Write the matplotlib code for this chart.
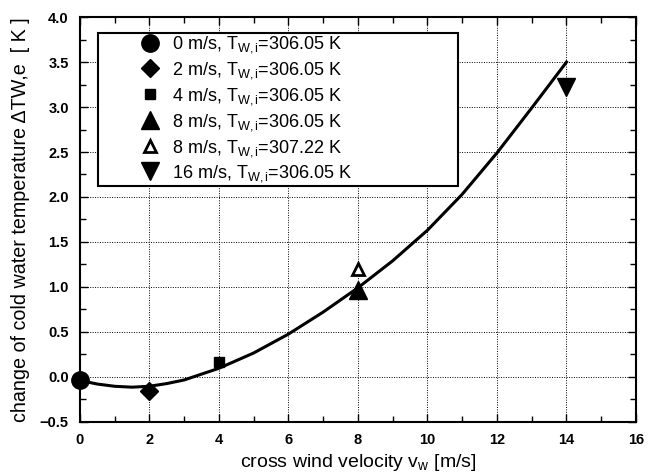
import numpy as np
import matplotlib
matplotlib.use('Agg')
import matplotlib.pyplot as plt
from matplotlib.ticker import MultipleLocator
from matplotlib.patches import Rectangle

plt.rcParams['font.family'] = ['Liberation Sans', 'DejaVu Sans']
plt.rcParams['mathtext.fontset'] = 'custom'
plt.rcParams['mathtext.rm'] = 'Liberation Sans'
plt.rcParams['mathtext.it'] = 'Liberation Sans'

# measured points
wind = [0, 2, 4, 8, 8, 14]
dT = [-0.04, -0.16, 0.16, 0.97, 1.20, 3.22]
labels = [r'0 m/s, T$_{\rm W,i}$=306.05 K',
          r'2 m/s, T$_{\rm W,i}$=306.05 K',
          r'4 m/s, T$_{\rm W,i}$=306.05 K',
          r'8 m/s, T$_{\rm W,i}$=306.05 K',
          r'8 m/s, T$_{\rm W,i}$=307.22 K',
          r'16 m/s, T$_{\rm W,i}$=306.05 K']

# fitted curve
fit_v = [0, 0.5, 1, 1.5, 2, 2.5, 3, 4, 5, 6, 7, 8, 9, 10, 11, 12, 13, 14]
fit_dT = [-0.04, -0.08, -0.105, -0.115, -0.105, -0.075, -0.035, 0.095, 0.265,
          0.475, 0.72, 0.99, 1.29, 1.63, 2.03, 2.49, 2.99, 3.50]

y_ticks = [-0.5, 0.0, 0.5, 1.0, 1.5, 2.0, 2.5, 3.0, 3.5, 4.0]

fig = plt.figure(figsize=(6.49, 4.75), dpi=100)
ax = fig.add_axes([0.123, 0.112, 0.857, 0.852])

ax.plot(fit_v, fit_dT, color='black', lw=2.2, zorder=3)

# marker, size, filled
styles = [('o', 12.5, True), ('D', 9.5, True), ('s', 7, True),
          ('^', 13, True), ('^', 9, False), ('v', 13, True)]
for x, y, lab, (m, ms, filled) in zip(wind, dT, labels, styles):
    ax.plot(x, y, linestyle='none', marker=m, markersize=ms,
            markerfacecolor='black' if filled else 'white',
            markeredgecolor='black', markeredgewidth=2 if not filled else 1,
            label=lab, zorder=4, clip_on=False)

ax.set_xlim(0, 16)
ax.xaxis.set_major_locator(MultipleLocator(2))
ax.xaxis.set_minor_locator(MultipleLocator(1))
ax.set_yticks(y_ticks)
ax.set_yticklabels([f'{v:.1f}'.replace('-', '\u2212') for v in y_ticks])
ax.yaxis.set_minor_locator(MultipleLocator(0.25))
ax.set_ylim(-0.5, 4.0)
ax.tick_params(which='both', direction='in', top=True, right=True, width=1)
ax.tick_params(which='major', length=6, labelsize=10.5, pad=8)
ax.tick_params(which='minor', length=4)
for t in ax.get_xticklabels() + ax.get_yticklabels():
    t.set_fontweight('bold')

ax.grid(True, which='major', color='black', linestyle=(0, (1, 1.5)), lw=0.7)
for s in ax.spines.values():
    s.set_linewidth(1.5)

ax.set_xlabel(r'cross wind velocity v$_{\rm w}$ [m/s]', fontsize=14, labelpad=4)
ax.set_ylabel('change of cold water temperature \u0394TW,e  [ K ]', fontsize=14.2, labelpad=7)

# legend box
box = Rectangle((0.032, 0.583), 0.648, 0.377, transform=ax.transAxes,
                facecolor='white', edgecolor='black', lw=1.5, zorder=5)
ax.add_patch(box)
leg = ax.legend(loc='upper left', bbox_to_anchor=(0.10, 0.957), fontsize=13,
                frameon=False, handletextpad=0.42, labelspacing=0.27,
                borderpad=0, borderaxespad=0, handlelength=1.6)
leg.set_zorder(6)

fig.savefig('out.png', dpi=100)
